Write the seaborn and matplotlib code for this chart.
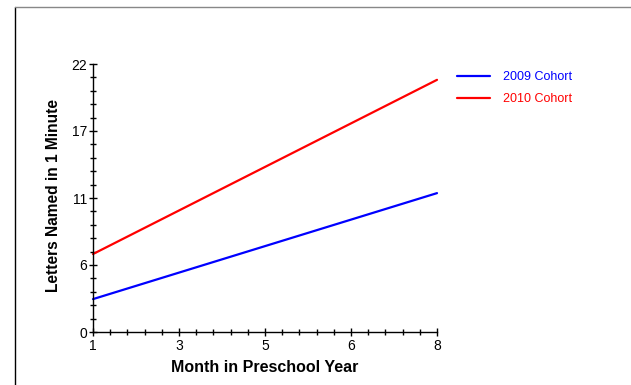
import pandas as pd
import seaborn as sns
import matplotlib.pyplot as plt
from matplotlib.lines import Line2D
from matplotlib.ticker import FixedLocator, AutoMinorLocator

# values
months = [1, 8]
cohort_2009 = [2.7, 11.4]
cohort_2010 = [6.4, 20.7]
cohort_names = ["2009 Cohort", "2010 Cohort"]
x_ticks = [1, 2.75, 4.5, 6.25, 8]
x_tick_labels = ["1", "3", "5", "6", "8"]
y_ticks = [0, 5.5, 11, 16.5, 22]
y_tick_labels = ["0", "6", "11", "17", "22"]

df = pd.DataFrame({
    "Month": months * 2,
    "Letters": cohort_2009 + cohort_2010,
    "Cohort": [cohort_names[0]] * len(months) + [cohort_names[1]] * len(months),
})

sns.set_style("ticks")
plt.rcParams["font.family"] = ["Liberation Sans", "DejaVu Sans"]
plt.rcParams["text.color"] = "black"
plt.rcParams["axes.labelcolor"] = "black"
plt.rcParams["xtick.color"] = "black"
plt.rcParams["ytick.color"] = "black"

fig = plt.figure(figsize=(6.31, 3.85), dpi=100)
ax = fig.add_axes([93 / 631, 1 - 332 / 385, 344 / 631, 268 / 385])

palette = {cohort_names[0]: "#0000ff", cohort_names[1]: "#ff0000"}
sns.lineplot(data=df, x="Month", y="Letters", hue="Cohort", palette=palette,
             linewidth=1.6, ax=ax)
for ln in ax.lines:
    ln.set_clip_on(False)

ax.set_xlim(1, 8)
ax.set_ylim(0, 22)
ax.xaxis.set_major_locator(FixedLocator(x_ticks))
ax.set_xticklabels(x_tick_labels)
ax.yaxis.set_major_locator(FixedLocator(y_ticks))
ax.set_yticklabels(y_tick_labels)
ax.xaxis.set_minor_locator(AutoMinorLocator(5))
ax.yaxis.set_minor_locator(AutoMinorLocator(5))
ax.tick_params(which="major", direction="inout", length=6, width=1,
               labelsize=10, pad=1, color="black", labelcolor="black")
ax.tick_params(axis="x", which="major", pad=2)
ax.tick_params(which="minor", direction="inout", length=4, width=1, color="black")

sns.despine(ax=ax)
for s in ["left", "bottom"]:
    ax.spines[s].set_color("black")
    ax.spines[s].set_linewidth(1)

ax.set_xlabel("Month in Preschool Year", fontsize=11.5, fontweight="bold",
              labelpad=5, color="black")
ax.set_ylabel("Letters Named in 1 Minute", fontsize=11.2, fontweight="bold",
              color="black")
ax.yaxis.set_label_coords(-0.093, 0.51)

leg = ax.legend(loc="upper left", bbox_to_anchor=(457 / 631, 1 - 71 / 385),
                bbox_transform=fig.transFigure, frameon=False, fontsize=9,
                handlelength=2.65, handletextpad=1.05, labelspacing=0.81,
                borderpad=0, borderaxespad=0)
for txt, h in zip(leg.get_texts(), leg.get_lines()):
    txt.set_color(h.get_color())

# page frame around the chart
fig.add_artist(Line2D([15 / 631, 15 / 631], [0, 1 - 6.5 / 385], color="black",
                      linewidth=1, transform=fig.transFigure))
fig.add_artist(Line2D([15 / 631, 1], [1 - 6.5 / 385, 1 - 6.5 / 385], color="#888888",
                      linewidth=1, transform=fig.transFigure))

fig.savefig("out.png", dpi=100)
